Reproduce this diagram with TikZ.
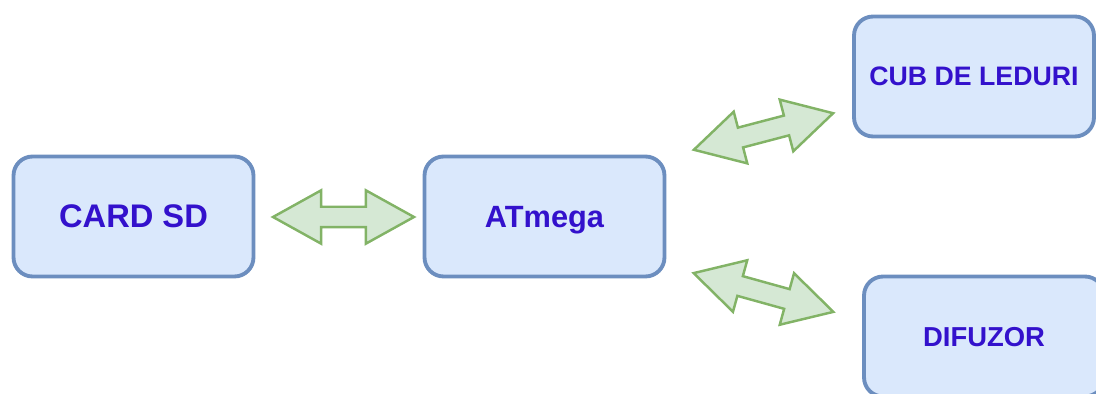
\documentclass[tikz,border=0pt]{standalone}
\usepackage{fontspec}
\setmainfont{Liberation Sans}
\usepackage{xcolor}
\usepackage{tikz}
\usetikzlibrary{shapes,arrows,positioning}

\definecolor{boxfill}{HTML}{DAE8FC}
\definecolor{boxline}{HTML}{6C8EBF}
\definecolor{boxtext}{RGB}{51,17,204}
\definecolor{linkfill}{HTML}{D5E8D4}
\definecolor{linkline}{HTML}{82B366}

\begin{document}
\begin{tikzpicture}[
      x=0.02cm, y=-0.02cm,
      block/.style={rectangle, draw=boxline, fill=boxfill, line width=2.2pt, rounded corners=0.38cm, minimum width=4.8cm, minimum height=2.4cm, text depth=0pt, text=boxtext},
      link/.style={double arrow, draw=linkline, fill=linkfill, line width=1.4pt, inner sep=0.18cm, double arrow head extend=0.33cm, double arrow tip angle=58}
    ]
      \clip (0,0) rectangle (1096,394);

      % Left: memory card
      \node[block, font={\fontsize{18.6}{20}\selectfont\bfseries}] (card) at (133.5,216.5) {CARD SD};

      % Middle: controller
      \node[block, font={\fontsize{17.5}{19}\selectfont\bfseries}] (atmega) at (544.5,216.5) {ATmega};

      % Right: outputs
      \node[block, font={\fontsize{15.2}{17}\selectfont\bfseries}] (cub) at (974,76.5) {CUB DE LEDURI};
      \node[block, font={\fontsize{15.6}{17}\selectfont\bfseries}] (difuzor) at (984,336.5) {DIFUZOR};

      % Block arrows
      \node[link, minimum height=2.82cm] (card_atmega) at (343.5,217) {};
      \node[link, minimum height=2.88cm, rotate=14.7] (atmega_cub) at (763.5,131.5) {};
      \node[link, minimum height=2.9cm, rotate=-15.5] (atmega_difuzor) at (763.5,292.5) {};
    \end{tikzpicture}
\end{document}
